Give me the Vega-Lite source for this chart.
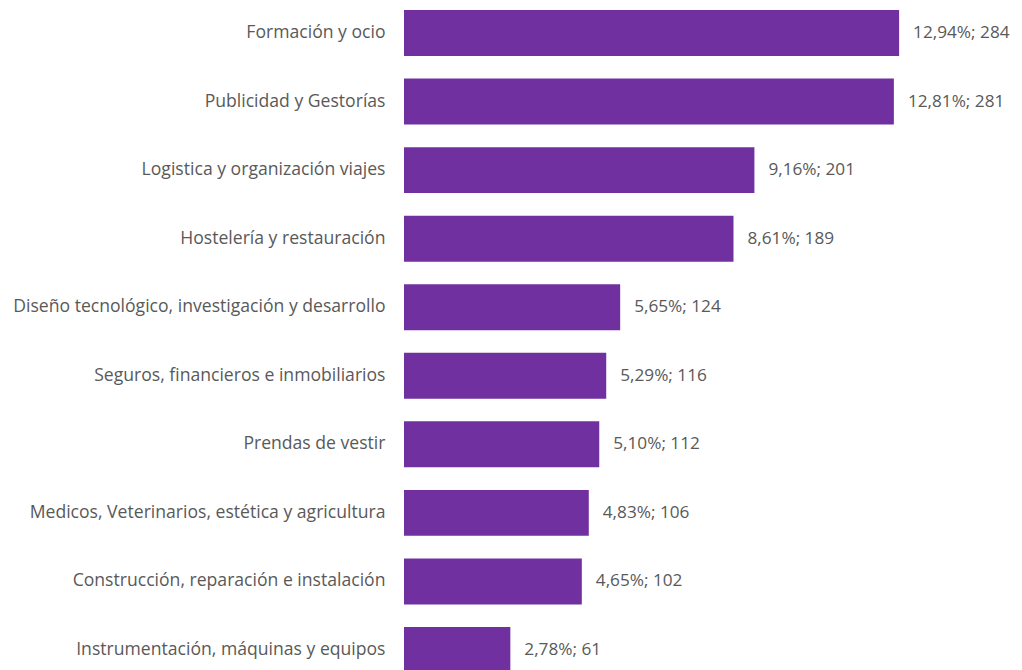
{
  "$schema": "https://vega.github.io/schema/vega-lite/v6.json",
  "width": 523,
  "height": 683,
  "autosize": {"type": "none"},
  "padding": {"left": 404, "top": 0, "right": 95, "bottom": 0},
  "background": "white",
  "config": {"view": {"stroke": null}, "font": "Open Sans"},
  "data": {"values": [
    {"sector": "Formación y ocio", "n": 284, "label": "12,94%; 284"},
    {"sector": "Publicidad y Gestorías", "n": 281, "label": "12,81%; 281"},
    {"sector": "Logistica y organización viajes", "n": 201, "label": "9,16%; 201"},
    {"sector": "Hostelería y restauración", "n": 189, "label": "8,61%; 189"},
    {"sector": "Diseño tecnológico, investigación y desarrollo", "n": 124, "label": "5,65%; 124"},
    {"sector": "Seguros, financieros e inmobiliarios", "n": 116, "label": "5,29%; 116"},
    {"sector": "Prendas de vestir", "n": 112, "label": "5,10%; 112"},
    {"sector": "Medicos, Veterinarios, estética y agricultura", "n": 106, "label": "4,83%; 106"},
    {"sector": "Construcción, reparación e instalación", "n": 102, "label": "4,65%; 102"},
    {"sector": "Instrumentación, máquinas y equipos", "n": 61, "label": "2,78%; 61"}
  ]},
  "encoding": {
    "y": {
      "field": "sector", "type": "nominal", "sort": null,
      "scale": {"paddingInner": 0.33, "paddingOuter": 0.146},
      "axis": {"title": null, "domain": false, "ticks": false, "labelPadding": 19, "labelFontSize": 17.6, "labelColor": "#595959", "labelLimit": 420}
    },
    "x": {
      "field": "n", "type": "quantitative",
      "scale": {"domain": [0, 300], "nice": false},
      "axis": null
    }
  },
  "layer": [
    {"mark": {"type": "bar", "color": "#7030A0"}},
    {"mark": {"type": "text", "align": "left", "dx": 14, "fontSize": 17.2, "color": "#595959"},
     "encoding": {"text": {"field": "label"}}}
  ]
}
